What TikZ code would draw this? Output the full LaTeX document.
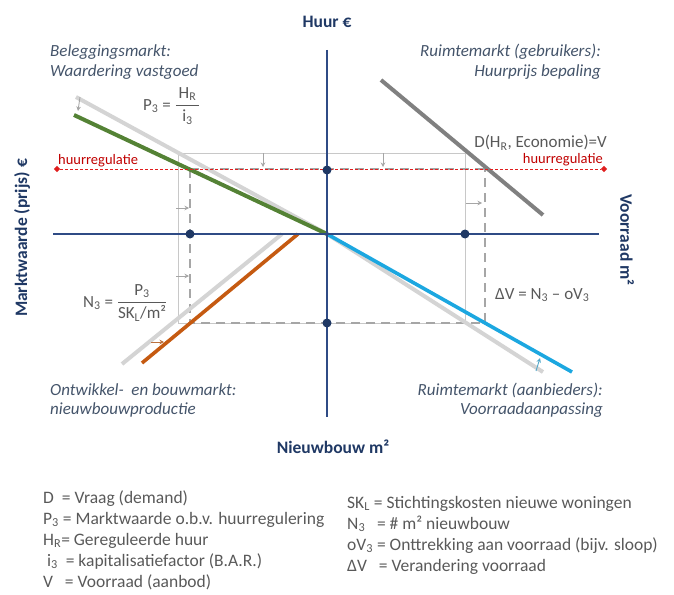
\documentclass[tikz,border=0pt]{standalone}
\usepackage{fontspec}
\setmainfont{Carlito}
\usepackage{amsmath}
\usetikzlibrary{arrows.meta,shapes.geometric}
\definecolor{axisblue}{HTML}{2F4B85}
\definecolor{navytext}{HTML}{1F3864}
\definecolor{slate}{HTML}{44546A}
\definecolor{darkgraytext}{HTML}{595959}
\definecolor{lgray}{HTML}{D4D4D4}
\definecolor{dgray}{HTML}{808080}
\definecolor{mgray}{HTML}{A6A6A6}
\definecolor{thingray}{HTML}{C8C8C8}
\definecolor{vgreen}{HTML}{548235}
\definecolor{vorange}{HTML}{C55A11}
\definecolor{vblue}{HTML}{1CA7E0}
\definecolor{vred}{HTML}{E01E1E}
\definecolor{redtext}{HTML}{C00000}
\begin{document}
\begin{tikzpicture}[x=1pt,y=-1pt,
  axisline/.style={draw=axisblue,line width=2.6pt},
  curveline/.style={line width=4pt},
  guide/.style={draw=mgray,line width=2.8pt,dash pattern=on 9pt off 6pt},
  thinbox/.style={draw=thingray,line width=0.7pt},
  shiftarrow/.style={draw=mgray,line width=0.9pt,-{Stealth[length=4.5pt,width=4.5pt]}},
  regline/.style={draw=vred,line width=1pt,dash pattern=on 3pt off 2pt},
  regdot/.style={diamond,fill=vred,inner sep=0pt,minimum size=6.5pt},
  navydot/.style={circle,fill=navytext,inner sep=0pt,minimum size=9pt},
  quadlabel/.style={font=\fontsize{17}{20.5}\selectfont\itshape,text=slate,inner sep=0pt},
  axlabel/.style={font=\fontsize{17.5}{20}\selectfont\bfseries,text=navytext,inner sep=0pt},
  eqlabel/.style={font=\fontsize{17}{20}\selectfont,text=darkgraytext,inner sep=0pt},
  reglabel/.style={font=\fontsize{14.5}{16}\selectfont,text=redtext,inner sep=0pt},
  legend/.style={font=\fontsize{17.5}{20}\selectfont,text=darkgraytext,inner sep=0pt,anchor=west,text height=12pt,text depth=4pt}
]
\useasboundingbox (0,0) rectangle (674,594);

% named points
\coordinate (O) at (327,234);
\coordinate (ytop) at (327,50);
\coordinate (ybot) at (327,417);
\coordinate (xl) at (53,234);
\coordinate (xr) at (599,234);
\coordinate (r1) at (178,153);
\coordinate (r2) at (465,323);
\coordinate (k1) at (190,169);
\coordinate (k2) at (190,323);
\coordinate (k3) at (485,169);
\coordinate (k4) at (485,323);
\coordinate (ka) at (190,234);
\coordinate (kc) at (465,234);
\coordinate (g1) at (74,115);
\coordinate (lg2) at (76,97);
\coordinate (d1) at (381,80);
\coordinate (d2) at (543,215);
\coordinate (o1) at (142,363);
\coordinate (o2) at (298,234);
\coordinate (lg3a) at (122,364);
\coordinate (lg3b) at (282,234);
\coordinate (b2) at (572,372);
\coordinate (lg4) at (543,372);

% thin box
\draw[thinbox] (r1) rectangle (r2);

% guide dashed lines
\draw[guide] (k1) -- (k3);
\draw[guide] (ka) -- (kc);
\draw[guide] (k1) -- (k2) -- (k4) -- (k3);

% old (light gray) curves
\draw[curveline,lgray] (lg2) -- (O);
\draw[curveline,lgray] (lg3a) -- (lg3b);
\draw[curveline,lgray] (O) -- (lg4);

% new curves
\draw[curveline,vgreen] (g1) -- (O);
\draw[curveline,vorange,line width=3.6pt] (o1) -- (o2);
\draw[curveline,vblue,line width=3.6pt] (O) -- (b2);
\draw[curveline,dgray] (d1) -- (d2);

% axes
\draw[axisline] (ytop) -- (ybot);
\draw[axisline] (xl) -- (xr);

% rent regulation line
\node[regdot] (hl) at (57,169) {};
\node[regdot] (hr) at (604,169) {};
\draw[regline] (hl) -- (hr);

% dots
\node[navydot] (pa) at (190,234) {};
\node[navydot] (pb) at (327,170) {};
\node[navydot] (pc) at (465,234) {};
\node[navydot] (pd) at (327,323) {};

% small shift arrows
\coordinate (s1a) at (80,97);   \coordinate (s1b) at (78,111);
\coordinate (s2a) at (536,371); \coordinate (s2b) at (540,358);
\coordinate (s3a) at (151,342); \coordinate (s3b) at (164,342);
\coordinate (s4a) at (263,153); \coordinate (s4b) at (263,167);
\coordinate (s5a) at (383,153); \coordinate (s5b) at (383,167);
\coordinate (s6a) at (176,208); \coordinate (s6b) at (189,208);
\coordinate (s7a) at (176,276); \coordinate (s7b) at (189,276);
\coordinate (s8a) at (466,203); \coordinate (s8b) at (482,203);
\draw[shiftarrow] (s1a) -- (s1b);
\draw[shiftarrow,draw=vblue!60!mgray] (s2a) -- (s2b);
\draw[shiftarrow,draw=vorange!70!mgray] (s3a) -- (s3b);
\draw[shiftarrow] (s4a) -- (s4b);
\draw[shiftarrow] (s5a) -- (s5b);
\draw[shiftarrow] (s6a) -- (s6b);
\draw[shiftarrow] (s7a) -- (s7b);
\draw[shiftarrow] (s8a) -- (s8b);

% axis labels
\node[axlabel] (tHuur) at (327,22) {Huur €};
\node[axlabel] (tNieuw) at (333,447) {Nieuwbouw m²};
\node[axlabel,rotate=90] (tMarkt) at (22,238) {Marktwaarde (prijs) €};
\node[axlabel,rotate=-90] (tVoor) at (627,240) {Voorraad m²};

% quadrant labels
\node[quadlabel,anchor=west] (q1a) at (50,52) {Beleggingsmarkt:};
\node[quadlabel,anchor=west] (q1b) at (50,72) {Waardering vastgoed};
\node[quadlabel,anchor=east] (q2a) at (601,52) {Ruimtemarkt (gebruikers):};
\node[quadlabel,anchor=east] (q2b) at (601,72) {Huurprijs bepaling};
\node[quadlabel,anchor=west] (q3a) at (50,390) {Ontwikkel-\ \ en bouwmarkt:};
\node[quadlabel,anchor=west] (q3b) at (50,410) {nieuwbouwproductie};
\node[quadlabel,anchor=east] (q4a) at (603,390) {Ruimtemarkt (aanbieders):};
\node[quadlabel,anchor=east] (q4b) at (603,410) {Voorraadaanpassing};

% regulation labels
\node[reglabel,anchor=west] (rl1) at (58,161) {huurregulatie};
\node[reglabel,anchor=east] (rl2) at (603,160) {huurregulatie};

% equations
\node[eqlabel,anchor=west] (eqP) at (143,106) {P\textsubscript{3} = $\dfrac{\,\text{H\textsubscript{R}}\,}{\text{i\textsubscript{3}}}$};
\node[eqlabel,anchor=west] (eqN) at (83,303) {N\textsubscript{3} = $\dfrac{\text{P\textsubscript{3}}}{\text{SK\textsubscript{L}/m²}}$};
\node[eqlabel,anchor=west] (eqD) at (495,295) {ΔV = N\textsubscript{3} – oV\textsubscript{3}};
\node[eqlabel,anchor=east] (eqDem) at (607,143) {D(H\textsubscript{R}, Economie)=V};

% legend
\node[legend] (lgD) at (43,499) {D\ \ = Vraag (demand)};
\node[legend] (lgP) at (43,520) {P\textsubscript{3} = Marktwaarde o.b.v. huurregulering};
\node[legend] (lgH) at (43,541) {H\textsubscript{R}= Gereguleerde huur};
\node[legend] (lgI) at (43,562) {\ i\textsubscript{3}\ \ = kapitalisatiefactor (B.A.R.)};
\node[legend] (lgV) at (43,583) {V\ \ \ = Voorraad (aanbod)};
\node[legend] (lgS) at (347,504) {SK\textsubscript{L}\ = Stichtingskosten nieuwe woningen};
\node[legend] (lgN) at (347,525) {N\textsubscript{3}\ \ \ = \# m² nieuwbouw};
\node[legend] (lgO) at (347,546) {oV\textsubscript{3} = Onttrekking\ aan voorraad (bijv. sloop)};
\node[legend] (lgDV) at (347,567) {ΔV\ \ \ = Verandering voorraad};
\end{tikzpicture}
\end{document}
